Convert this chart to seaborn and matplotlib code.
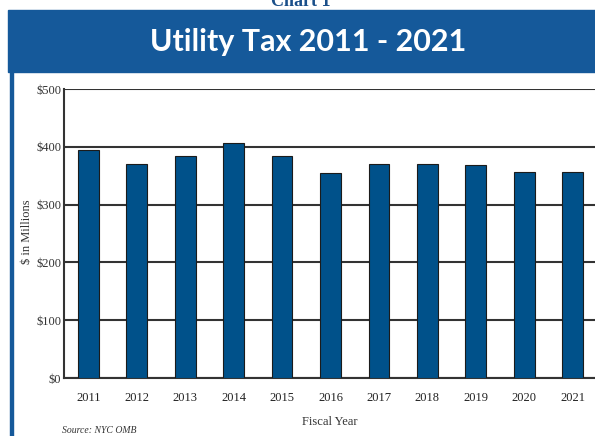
import matplotlib
matplotlib.use("Agg")
import matplotlib.pyplot as plt
import matplotlib.patches as patches
import pandas as pd
import seaborn as sns

# Data ($ millions)
years = ['2011', '2012', '2013', '2014', '2015', '2016', '2017', '2018', '2019', '2020', '2021']
values = [394, 370, 384, 406, 384, 354, 370, 370, 369, 356, 356]
yticks = [0, 100, 200, 300, 400, 500]
ytick_labels = ['$0', '$100', '$200', '$300', '$400', '$500']

df = pd.DataFrame({'year': years, 'value': values})

sns.set_style('white')
plt.rcParams['font.family'] = ['Liberation Serif', 'DejaVu Serif']

header_blue = '#15599a'
bar_blue = '#00518a'
grid_col = '#333333'

fig = plt.figure(figsize=(5.95, 4.36), dpi=100)

# header band and frame
fig.patches.append(patches.Rectangle((8 / 595, 1 - 72 / 436), 1, 62 / 436,
                                     transform=fig.transFigure, color=header_blue, zorder=0))
fig.patches.append(patches.Rectangle((10 / 595, 0), 3 / 595, 1 - 72 / 436,
                                     transform=fig.transFigure, color=header_blue, zorder=0))
fig.text(0.518, 1 - 42 / 436, 'Utility Tax 2011 - 2021', color='white', fontsize=22,
         fontweight='bold', family=['Lato', 'DejaVu Sans'], ha='center', va='center')
fig.text(0.505, 1 - 1 / 436, 'Chart 1', color='#1a4f8a', fontsize=13, fontweight='bold',
         ha='center', va='center')

ax = fig.add_axes([64 / 595, 1 - 378 / 436, 533 / 595, 289 / 436])
sns.barplot(data=df, x='year', y='value', color=bar_blue, saturation=1, width=0.43,
            edgecolor='#1b1b1b', linewidth=0.8, ax=ax, zorder=3)

ax.set_ylim(0, 500)
ax.set_xlim(-0.5, 10.5)
ax.set_yticks(yticks)
ax.set_yticklabels(ytick_labels)
ax.yaxis.grid(True, color=grid_col, linewidth=1.5)
ax.set_axisbelow(True)
ax.tick_params(axis='y', length=0, pad=2, labelsize=9, labelcolor='#333333')
ax.tick_params(axis='x', length=0, pad=10, labelsize=9, labelcolor='#222222')
for s in ['top', 'right']:
    ax.spines[s].set_visible(False)
for s in ['left', 'bottom']:
    ax.spines[s].set_color(grid_col)
    ax.spines[s].set_linewidth(1.5)
ax.set_xlabel('')
ax.set_ylabel('')

fig.text(27 / 595, 1 - 232 / 436, '$ in Millions', rotation=90, fontsize=9,
         color='#333333', ha='center', va='center')
fig.text(330 / 595, 1 - 422 / 436, 'Fiscal Year', fontsize=9, color='#333333',
         ha='center', va='center')
fig.text(62 / 595, 1 - 430 / 436, 'Source: NYC OMB', fontsize=7, style='italic',
         color='#333333', ha='left', va='center')

fig.savefig('out.png', dpi=100)
